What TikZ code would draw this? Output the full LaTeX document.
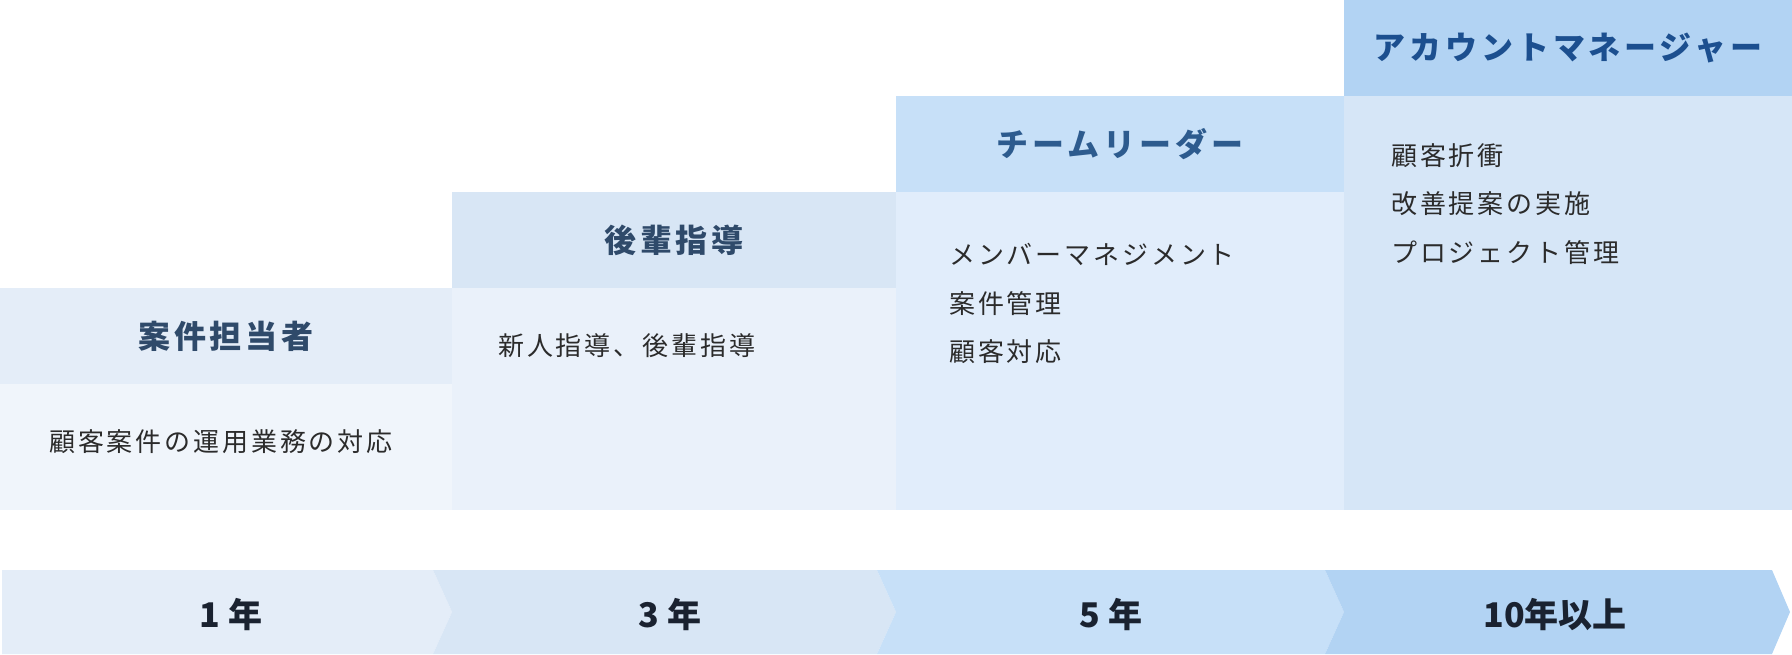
\documentclass[tikz,border=0pt]{standalone}
\usepackage{fontspec}
\setmainfont{Noto Sans CJK JP}
\newfontfamily\ttlfont[LetterSpace=12]{Noto Sans CJK JP}
\newfontfamily\itmfont[LetterSpace=11]{Noto Sans CJK JP}

\definecolor{hda}{HTML}{E4EDF8}
\definecolor{bda}{HTML}{F0F5FB}
\definecolor{hdb}{HTML}{D8E6F5}
\definecolor{bdb}{HTML}{EAF1FA}
\definecolor{hdc}{HTML}{C7E0F8}
\definecolor{bdc}{HTML}{E1EDFB}
\definecolor{hdd}{HTML}{B2D3F3}
\definecolor{bdd}{HTML}{D6E6F7}
\definecolor{ttlgray}{HTML}{2F4A6A}
\definecolor{ttlmid}{HTML}{2D5B8E}
\definecolor{ttldark}{HTML}{1C4F8F}
\definecolor{itmtext}{HTML}{2B2B2B}
\definecolor{yeartext}{HTML}{1A2230}

\begin{document}
\begin{tikzpicture}
	[x=1pt,y=-1pt,
	 head/.style={rectangle,inner sep=0pt,minimum height=96pt,font=\ttlfont\bfseries\fontsize{32}{36}\selectfont},
	 item/.style={anchor=north west,inner sep=0pt,align=left,text=itmtext,font=\itmfont\fontsize{26}{48.5}\selectfont},
	 stage/.style={inner sep=0pt,text=yeartext,font=\bfseries\fontsize{34}{36}\selectfont} ]

\useasboundingbox (0,0) rectangle (1792,654);

% bodies
\fill[bda] (0,384) rectangle (452,510);
\fill[bdb] (452,288) rectangle (896,510);
\fill[bdc] (896,192) rectangle (1344,510);
\fill[bdd] (1344,96) rectangle (1792,510);

% headers
\node [head,fill=hda,text=ttlgray,minimum width=452pt] (heada) at (226,336) {\raisebox{-1pt}{案件担当者}};
\node [head,fill=hdb,text=ttlgray,minimum width=444pt] (headb) at (674,240) {\raisebox{-1pt}{後輩指導}};
\node [head,fill=hdc,text=ttlmid,minimum width=448pt] (headc) at (1120,144) {\raisebox{-1pt}{チームリーダー}};
\node [head,fill=hdd,text=ttldark,minimum width=448pt] (headd) at (1568,48) {\raisebox{-1pt}{アカウントマネージャー}};

% items
\node [item] (itema) at (49,429) {顧客案件の運用業務の対応};
\node [item] (itemb) at (498,333) {新人指導、後輩指導};
\node [item] (itemc) at (949,243) {メンバーマネジメント\\案件管理\\顧客対応};
\node [item] (itemd) at (1391,143) {顧客折衝\\改善提案の実施\\プロジェクト管理};

% years
\fill[hda] (2,570) -- (433,570) -- (452,612) -- (433,654) -- (2,654) -- cycle;
\fill[hdb] (433,570) -- (877,570) -- (896,612) -- (877,654) -- (433,654) -- (452,612) -- cycle;
\fill[hdc] (877,570) -- (1325,570) -- (1344,612) -- (1325,654) -- (877,654) -- (896,612) -- cycle;
\fill[hdd] (1325,570) -- (1772,570) -- (1790,612) -- (1772,654) -- (1325,654) -- (1344,612) -- cycle;

\node [stage] (yeara) at (231,615) {1 年};
\node [stage] (yearb) at (670,615) {3 年};
\node [stage] (yearc) at (1111,615) {5 年};
\node [stage] (yeard) at (1555,615) {10年以上};

\end{tikzpicture}
\end{document}
